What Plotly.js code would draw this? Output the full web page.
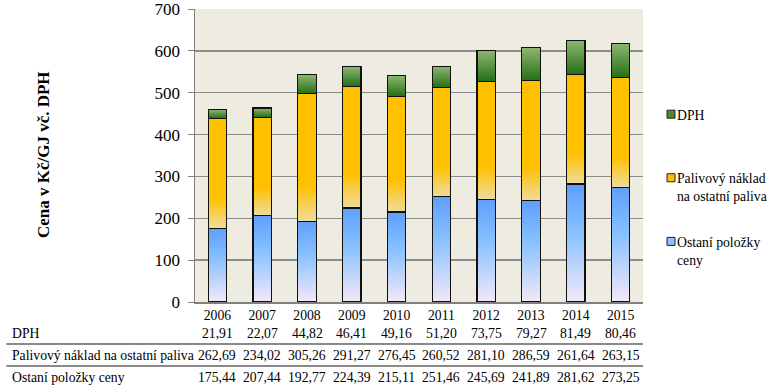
<!DOCTYPE html>
<html>
<head>
<meta charset="utf-8">
<script src="https://cdn.plot.ly/plotly-3.0.1.min.js"></script>
<style>
html,body{margin:0;padding:0;background:#fff;}
#chart{width:770px;height:386px;}
</style>
</head>
<body>
<div id="chart"></div>
<script>
const years = ['2006','2007','2008','2009','2010','2011','2012','2013','2014','2015'];
const dph = [21.91, 22.07, 44.82, 46.41, 49.16, 51.20, 73.75, 79.27, 81.49, 80.46];
const palivo = [262.69, 234.02, 305.26, 291.27, 276.45, 260.52, 281.10, 286.59, 261.64, 263.15];
const ostatni = [175.44, 207.44, 192.77, 224.39, 215.11, 251.46, 245.69, 241.89, 281.62, 273.25];
const seriesNames = ['Ostaní položky<br>ceny', 'Palivový náklad<br>na ostatní paliva', 'DPH<br> '];
const rowLabels = ['DPH', 'Palivový náklad na ostatní paliva', 'Ostaní položky ceny'];
const yTicks = [0, 100, 200, 300, 400, 500, 600, 700];

const serif = "'Liberation Serif', 'Times New Roman', serif";
const fmt = v => v.toFixed(2).replace('.', ',');

const W = 770, H = 386, L = 195, R = 112, T = 9, B = 84;
const pw = W - L - R, ph = H - T - B;
const px2x = p => (p - L) / pw;
const py2y = p => (H - B - p) / ph;

const mk = (name, y, grp, rank, color) => ({type: 'bar', x: years, y: y, name: name, width: 0.41,
  legendgroup: grp, legendrank: rank, marker: {color: color, line: {color: '#111', width: 1.3}}});
const traces = [
  mk(seriesNames[0], ostatni, 'a', 3, '#8cc0ff'),
  mk(seriesNames[1], palivo, 'b', 2, '#ffc000'),
  mk(seriesNames[2], dph, 'c', 1, '#4a8a30')
];

const tfont = {family: serif, size: 13.7, color: '#000'};
const annotations = [];
const rows = [dph, palivo, ostatni];
const rowY = [333, 355, 377];
rows.forEach((arr, r) => {
  annotations.push({xref: 'paper', yref: 'paper', x: px2x(4), y: py2y(rowY[r]), xanchor: 'left', yanchor: 'middle',
    text: rowLabels[r], showarrow: false, font: tfont});
  arr.forEach((v, i) => {
    annotations.push({xref: 'x', yref: 'paper', x: i, y: py2y(rowY[r]), xanchor: 'center', yanchor: 'middle',
      text: fmt(v), showarrow: false, font: tfont});
  });
});
annotations.push({xref: 'paper', yref: 'paper', x: px2x(38), y: py2y(155), xanchor: 'center', yanchor: 'middle',
  text: '<b>Cena v Kč/GJ vč. DPH</b>', textangle: -90, showarrow: false, font: {family: serif, size: 17, color: '#000'}});

const shapes = [344, 366].map(p => ({type: 'line', xref: 'paper', yref: 'paper', x0: px2x(0), x1: 1,
  y0: py2y(p), y1: py2y(p), line: {color: '#8a8a8a', width: 2}}));

const layout = {
  width: W, height: H,
  margin: {l: L, r: R, t: T, b: B, pad: 0},
  paper_bgcolor: '#ffffff',
  plot_bgcolor: '#eeece1',
  barmode: 'stack',
  showlegend: true,
  font: {family: serif},
  legend: {x: px2x(640), y: py2y(98), xanchor: 'left', yanchor: 'top', bgcolor: 'rgba(0,0,0,0)',
    traceorder: 'grouped', tracegroupgap: 25, valign: 'top',
    font: {family: serif, size: 13.7, color: '#000'}},
  xaxis: {type: 'category', range: [-0.5, 9.5], autorange: false, showgrid: false, showline: true,
    linecolor: '#808080', linewidth: 2,
    ticks: '', tickfont: tfont, fixedrange: true},
  yaxis: {range: [0, 700], autorange: false, tickvals: yTicks, showgrid: true, gridcolor: '#8c8c8c', gridwidth: 1.5,
    showline: true, linecolor: '#808080', linewidth: 1.5, ticks: 'outside', ticklen: 6, tickcolor: '#808080',
    ticklabelstandoff: 4,
    ticklabeloverflow: 'allow', tickfont: {family: serif, size: 17, color: '#000'}, zeroline: false, fixedrange: true},
  annotations: annotations,
  shapes: shapes
};

Plotly.newPlot('chart', traces, layout, {displayModeBar: false, staticPlot: true}).then(gd => {
  const svg = gd.querySelector('svg.main-svg');
  const ns = 'http://www.w3.org/2000/svg';
  const defs = document.createElementNS(ns, 'defs');
  const grads = {
    gBlue: [[0, '#5e9ffd'], [0.4, '#86c0ff'], [1, '#f4e8f8']],
    gYel: [[0, '#ffc000'], [0.72, '#ffc000'], [1, '#efdc9c']],
    gGreen: [[0, '#8eb672'], [1, '#256f15']]
  };
  Object.keys(grads).forEach(id => {
    const lg = document.createElementNS(ns, 'linearGradient');
    lg.setAttribute('id', id);
    lg.setAttribute('x1', '0'); lg.setAttribute('y1', '0');
    lg.setAttribute('x2', '0'); lg.setAttribute('y2', '1');
    grads[id].forEach(([o, c]) => {
      const s = document.createElementNS(ns, 'stop');
      s.setAttribute('offset', o);
      s.setAttribute('stop-color', c);
      lg.appendChild(s);
    });
    defs.appendChild(lg);
  });
  svg.insertBefore(defs, svg.firstChild);
  const ids = ['gBlue', 'gYel', 'gGreen'];
  gd.querySelectorAll('.barlayer .trace').forEach((tr, i) => {
    tr.querySelectorAll('path').forEach(p => { p.style.fill = 'url(#' + ids[i] + ')'; });
  });

  // legend placement tweaks: smaller symbols closer to the text, position like the reference
  const leg = gd.querySelector('.legend');
  if (leg) {
    leg.querySelectorAll('.legendpoints path').forEach(p => {
      p.setAttribute('d', 'M4,4H-4V-4H4Z');
      p.style.strokeWidth = '1px';
      p.style.stroke = '#222';
    });
    leg.querySelectorAll('.legendpoints').forEach(g => {
      const t = g.getAttribute('transform') || '';
      g.setAttribute('transform', t + ' translate(14,0)');
    });
    const texts = leg.querySelectorAll('text.legendtext');
    if (texts.length) {
      const first = texts[0].querySelector('tspan') || texts[0];
      const r = first.getBoundingClientRect();
      const dx = 677 - r.left;
      const dy = 115 - (r.top + r.bottom) / 2;
      const tr = leg.getAttribute('transform') || '';
      leg.setAttribute('transform', tr + ' translate(' + dx + ',' + dy + ')');
    }
  }
});
</script>
</body>
</html>
